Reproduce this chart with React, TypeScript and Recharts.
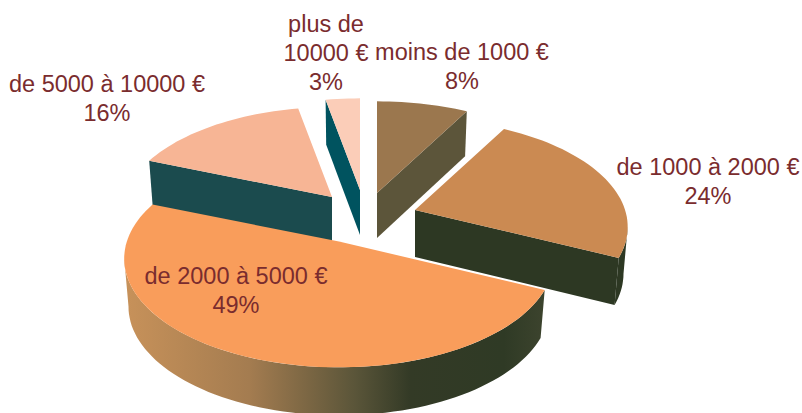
import React from 'react';
import { PieChart, Pie } from 'recharts';

// draw order: back slices first, the big front slice last
const categories = [
  'de 5000 à 10000 €',
  'plus de\n10000 €',
  'moins de 1000 €',
  'de 1000 à 2000 €',
  'de 2000 à 5000 €',
];
const shares = [16, 3, 8, 24, 49];

const topColors = ['#f7b595', '#fbcdb8', '#9b774e', '#cb8a52', '#f99d5b'];
const wallColors = ['#1b4b4e', '#00535f', '#5c553a', '#2d3823', 'url(#frontWall)'];

// how far each slice is pulled out of the centre, and its size correction
const offsetsX = [-28, 0, 17, 55, -21];
const offsetsY = [-18, -25, -22, -5, 26.5];
const scales = [1, 1.02, 1.02, 1.01, 1.02];
const depths = [47, 45, 45, 47, 48];

// label anchor (centre x, first baseline)
const labelX = [107, 326, 462, 708, 236];
const labelY = [91.5, 32, 60, 175, 284];

const TILT = 0.5;
const PERSPECTIVE = 0.157;
const DEG = Math.PI / 180;

const data = categories.map((name, i) => ({ name, value: shares[i] }));

const SLICE_SIZE = 208;

const Slice = (props: any) => {
  const i = categories.indexOf(props.payload?.name ?? props.name);
  const ax = props.cx + offsetsX[i];
  const ay = props.cy + offsetsY[i];
  const rx = props.outerRadius * scales[i];
  const ry = rx * TILT;
  const depth = depths[i];

  // theta is clockwise from the top of the pie
  const t1 = 90 - props.startAngle;
  const t2 = 90 - props.endAngle;

  const top = (t: number): [number, number] => {
    const s = 1 / (1 + PERSPECTIVE * Math.cos(t * DEG));
    return [ax + rx * Math.sin(t * DEG) * s, ay - ry * Math.cos(t * DEG) * s];
  };
  const bottom = (t: number): [number, number] => {
    const p = top(t);
    return [ax + (p[0] - ax) * 0.98, p[1] + depth];
  };
  const arc = (from: number, to: number, fn: (t: number) => [number, number]) => {
    const n = Math.max(2, Math.ceil(Math.abs(to - from) / 2));
    const pts: [number, number][] = [];
    for (let k = 0; k <= n; k++) pts.push(fn(from + ((to - from) * k) / n));
    return pts;
  };
  const path = (pts: [number, number][]) =>
    'M' + pts.map(p => p[0].toFixed(1) + ',' + p[1].toFixed(1)).join('L') + 'Z';

  const walls: React.ReactNode[] = [];

  // outer rim, between the two points where the perspective ellipse is widest
  [0, 360].forEach(shift => {
    const a = Math.max(t1, 99 + shift);
    const b = Math.min(t2, 261 + shift);
    if (b > a) {
      const d = path([...arc(a, b, top), ...arc(b, a, bottom)]);
      walls.push(<path key={'rim' + shift} d={d} fill={wallColors[i]} />);
    }
  });

  // straight cut faces
  const apex: [number, number] = [ax, ay];
  const apexLow: [number, number] = [ax, ay + depth];
  if (Math.cos((t2 + 90) * DEG) < 0) {
    walls.push(<path key="end" d={path([apex, top(t2), bottom(t2), apexLow])} fill={wallColors[i]} />);
  }
  if (Math.cos((t1 - 90) * DEG) < -0.01) {
    walls.push(<path key="start" d={path([apex, top(t1), bottom(t1), apexLow])} fill={wallColors[i]} />);
  }

  return (
    <g>
      <defs>
        <linearGradient id="frontWall" gradientUnits="userSpaceOnUse" x1="122" y1="0" x2="546" y2="0">
          <stop offset="0" stopColor="#c8925a" />
          <stop offset="0.3" stopColor="#a47c50" />
          <stop offset="0.55" stopColor="#5a5539" />
          <stop offset="0.68" stopColor="#333a26" />
          <stop offset="0.9" stopColor="#2f3a25" />
          <stop offset="1" stopColor="#3d442e" />
        </linearGradient>
      </defs>
      {walls}
      <path d={path([apex, ...arc(t1, t2, top)])} fill={topColors[i]} />
    </g>
  );
};

const SliceLabel = (props: any) => {
  const i = categories.indexOf(props.payload?.name ?? props.name);
  const lines = [...categories[i].split('\n'), shares[i] + '%'];
  return (
    <text
      x={labelX[i]}
      y={labelY[i]}
      textAnchor="middle"
      fill="#7a2c2e"
      fontFamily="'Liberation Sans', Arial, sans-serif"
      fontSize={23.5}
    >
      {lines.map((line, k) => (
        <tspan key={k} x={labelX[i]} dy={k === 0 ? 0 : 29}>
          {line}
        </tspan>
      ))}
    </text>
  );
};

export default function App() {
  return (
    <div style={{ position: 'absolute', left: 0, top: 0, width: 802, height: 413, background: '#fff', overflow: 'hidden' }}>
      <PieChart width={802} height={413} margin={{ top: 0, right: 0, bottom: 0, left: 0 }}>
        <Pie
          data={data}
          dataKey="value"
          nameKey="name"
          cx={360}
          cy={215}
          innerRadius={0}
          outerRadius={SLICE_SIZE}
          startAngle={158.4}
          endAngle={-201.6}
          stroke="none"
          shape={(p: any) => <Slice {...p} />}
          label={(p: any) => <SliceLabel {...p} />}
          labelLine={false}
          isAnimationActive={false}
        />
      </PieChart>
    </div>
  );
}
